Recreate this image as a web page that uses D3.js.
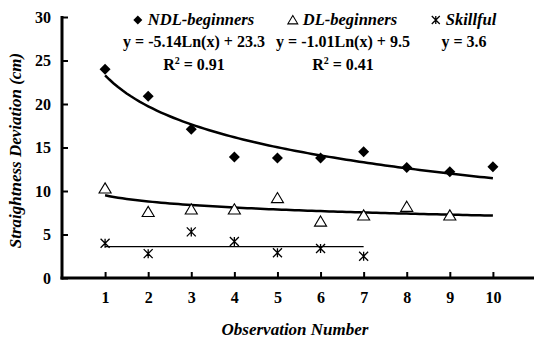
<!DOCTYPE html>
<html>
<head>
<meta charset="utf-8">
<script src="https://cdn.jsdelivr.net/npm/d3@7"></script>
<style>
  html, body { margin: 0; padding: 0; background: #fff; }
  svg { display: block; }
  text { font-family: "Liberation Serif", "Times New Roman", serif; font-weight: bold; fill: #000; }
</style>
</head>
<body>
<svg id="chart" width="534" height="340"></svg>
<script>
// Observation numbers and straightness deviation (cm) per group
const observations = [1, 2, 3, 4, 5, 6, 7, 8, 9, 10];
const ndlBeginners = [24.0, 20.9, 17.1, 13.9, 13.8, 13.8, 14.5, 12.7, 12.2, 12.8];
const dlBeginners  = [10.3, 7.6, 7.9, 7.9, 9.2, 6.5, 7.2, 8.2, 7.2];
const skillful     = [4.0, 2.8, 5.3, 4.2, 2.9, 3.4, 2.5];

// Fitted trends: y = a*ln(x) + b, and a constant level for skillful users
const ndlFit = { a: -5.14, b: 23.3, r2: 0.91 };
const dlFit  = { a: -1.01, b: 9.5,  r2: 0.41 };
const skillLevel = 3.6;

const yTicks = [0, 5, 10, 15, 20, 25, 30];
const xTicks = observations;

const svg = d3.select("#chart");
const x = d3.scaleLinear().domain([0, 11]).range([62, 536]);
const y = d3.scaleLinear().domain([0, 30]).range([278, 17]);

// Axes
const gx = svg.append("g").attr("transform", `translate(0,${y(0)})`)
  .call(d3.axisBottom(x).tickValues(xTicks).tickSize(0).tickPadding(22).tickFormat(d3.format("d")));
gx.select(".domain").remove();
gx.selectAll(".tick line").remove();
gx.selectAll(".tick").append("line").attr("y1", 0).attr("y2", -6).attr("stroke", "#000").attr("stroke-width", 2);
gx.selectAll(".tick text").attr("font-size", 16).attr("font-family", "Liberation Serif").attr("font-weight", "bold").attr("dy", "0.2em");

const gy = svg.append("g").attr("transform", `translate(${x(0)},0)`)
  .call(d3.axisLeft(y).tickValues(yTicks).tickSize(0).tickPadding(11));
gy.select(".domain").remove();
gy.selectAll(".tick line").remove();
gy.selectAll(".tick").append("line").attr("x1", 0).attr("x2", 6).attr("stroke", "#000").attr("stroke-width", 2);
gy.selectAll(".tick text").attr("font-size", 16).attr("font-family", "Liberation Serif").attr("font-weight", "bold");

svg.append("line").attr("x1", x(0)).attr("x2", x(0)).attr("y1", y(30) - 1).attr("y2", y(0) + 1.5)
  .attr("stroke", "#000").attr("stroke-width", 3);
svg.append("line").attr("x1", x(0) - 1.5).attr("x2", 534).attr("y1", y(0)).attr("y2", y(0))
  .attr("stroke", "#000").attr("stroke-width", 3);

// Axis titles
svg.append("text").attr("transform", `translate(21,${(y(0) + y(30)) / 2 + 3}) rotate(-90)`)
  .attr("text-anchor", "middle").attr("font-size", 17).attr("font-style", "italic")
  .text("Straightness Deviation (cm)");
svg.append("text").attr("x", 295).attr("y", 335).attr("text-anchor", "middle")
  .attr("font-size", 17).attr("font-style", "italic").text("Observation Number");

// Trend lines
const logCurve = fit => d3.range(1, 10.001, 0.1).map(v => [v, fit.a * Math.log(v) + fit.b]);
const line = d3.line().x(d => x(d[0])).y(d => y(d[1]));
svg.append("path").attr("d", line(logCurve(ndlFit))).attr("fill", "none").attr("stroke", "#000").attr("stroke-width", 2.5);
svg.append("path").attr("d", line(logCurve(dlFit))).attr("fill", "none").attr("stroke", "#000").attr("stroke-width", 2.5);
svg.append("path").attr("d", line([[1, skillLevel], [skillful.length, skillLevel]]))
  .attr("fill", "none").attr("stroke", "#000").attr("stroke-width", 1.2);

// Marker shapes
const diamond = (g, cx, cy, r) => g.append("path")
  .attr("d", `M${cx},${cy - r}L${cx + r},${cy}L${cx},${cy + r}L${cx - r},${cy}Z`).attr("fill", "#000");
const triangle = (g, cx, cy, r) => g.append("path")
  .attr("d", `M${cx},${cy - r}L${cx + r * 1.1},${cy + r * 0.85}L${cx - r * 1.1},${cy + r * 0.85}Z`)
  .attr("fill", "#fff").attr("stroke", "#000").attr("stroke-width", 1.1);
const star = (g, cx, cy, r) => g.append("path")
  .attr("d", `M${cx - r},${cy - r}L${cx + r},${cy + r}M${cx - r},${cy + r}L${cx + r},${cy - r}M${cx},${cy - r}L${cx},${cy + r}`)
  .attr("fill", "none").attr("stroke", "#000").attr("stroke-width", 1.3);

const marks = svg.append("g");
ndlBeginners.forEach((v, i) => diamond(marks, x(observations[i]), y(v), 5.5));
dlBeginners.forEach((v, i) => triangle(marks, x(observations[i]), y(v), 5.5));
skillful.forEach((v, i) => star(marks, x(observations[i]), y(v), 4.5));

// Legend with fitted equations
const fmt2 = d3.format(".2f");
const legend = [
  { name: "NDL-beginners", cx: 194, sym: diamond, eq: `y = ${ndlFit.a}Ln(x) + ${ndlFit.b}`, r2: ndlFit.r2 },
  { name: "DL-beginners",  cx: 343, sym: triangle, eq: `y = ${dlFit.a}Ln(x) + ${dlFit.b}`, r2: dlFit.r2 },
  { name: "Skillful",      cx: 464, sym: star, eq: `y = ${skillLevel}`, r2: null }
];
legend.forEach(d => {
  const t = svg.append("text").attr("x", d.cx + 7).attr("y", 25).attr("text-anchor", "middle")
    .attr("font-size", 16.5).attr("font-style", "italic").text(d.name);
  const w = t.node().getComputedTextLength();
  const sx = d.cx + 7 - w / 2 - 10;
  if (d.sym === star) d.sym(svg, sx, 20, 4); else d.sym(svg, sx, 20, 4.5);
  svg.append("text").attr("x", d.cx).attr("y", 47).attr("text-anchor", "middle")
    .attr("font-size", 16).text(d.eq);
  if (d.r2 !== null) {
    const r = svg.append("text").attr("x", d.cx).attr("y", 70).attr("text-anchor", "middle").attr("font-size", 16);
    r.append("tspan").text("R");
    r.append("tspan").attr("font-size", 10).attr("dy", -6).text("2");
    r.append("tspan").attr("dy", 6).text(` = ${fmt2(d.r2)}`);
  }
});
</script>
</body>
</html>
